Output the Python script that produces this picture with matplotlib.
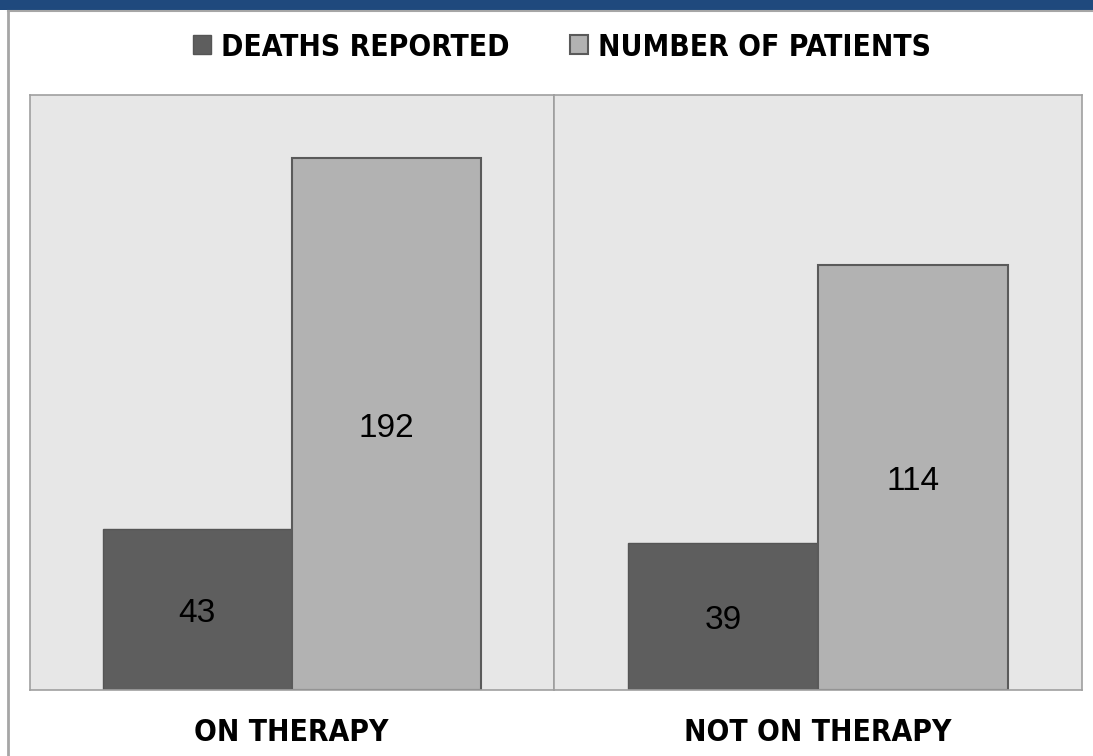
import matplotlib
matplotlib.use("Agg")
import matplotlib.pyplot as plt
from matplotlib.patches import Rectangle
from matplotlib.lines import Line2D

categories = ["ON THERAPY", "NOT ON THERAPY"]
series_names = ["DEATHS REPORTED", "NUMBER OF PATIENTS"]
deaths = [43, 39]
patients = [192, 114]

# per-panel value range (each panel drawn on its own scale)
panel_ylims = [(-21.5, 217.3), (-0.8, 159.9)]

W, H = 1093, 756
fig = plt.figure(figsize=(W / 100, H / 100), dpi=100)
fig.patch.set_facecolor("white")

cat_font = ["DejaVu Sans"]
num_font = ["Liberation Sans", "DejaVu Sans"]

# top blue strip and frame lines
fig.add_artist(Rectangle((0, 1 - 9.5 / H), 1, 9.5 / H, transform=fig.transFigure,
                         facecolor="#1f497d", edgecolor="none"))
fig.add_artist(Line2D([7.5 / W, 1], [1 - 11 / H, 1 - 11 / H], transform=fig.transFigure,
                      color="#a6a6a6", lw=1.5))
fig.add_artist(Line2D([7.5 / W, 7.5 / W], [0, 1 - 11 / H], transform=fig.transFigure,
                      color="#a6a6a6", lw=2))

dark = "#5e5e5e"
light = "#b2b2b2"
bg = "#e7e7e7"

panels_px = [(29.5, 554), (554, 1082)]
top_px, bot_px = 95, 690
bar_w = 0.36
handles = None
for i, (x0, x1) in enumerate(panels_px):
    ax = fig.add_axes([x0 / W, 1 - bot_px / H, (x1 - x0) / W, (bot_px - top_px) / H])
    ax.set_facecolor(bg)
    lo, hi = panel_ylims[i]
    ax.set_xlim(-0.5, 0.5)
    ax.set_ylim(lo, hi)
    b1 = ax.bar(-bar_w / 2, deaths[i] - lo, bottom=lo, width=bar_w, color=dark,
                edgecolor="#555555", linewidth=1, zorder=2)
    b2 = ax.bar(bar_w / 2, patients[i] - lo, bottom=lo, width=bar_w, color=light,
                edgecolor="#5a5a5a", linewidth=1.5, zorder=2)
    if handles is None:
        handles = [b1, b2]
    for xc, v in ((-bar_w / 2, deaths[i]), (bar_w / 2, patients[i])):
        ax.annotate(str(v), xy=(xc, (v + lo) / 2), xytext=(0, -3),
                    textcoords="offset points", ha="center", va="center",
                    fontsize=24, family=num_font, color="black", zorder=3)
    ax.set_xticks([0])
    ax.set_xticklabels([categories[i]], fontsize=21.5, fontweight="bold",
                       family=cat_font, fontstretch="condensed")
    ax.tick_params(axis="x", length=0, pad=20)
    ax.set_yticks([])
    for s in ax.spines.values():
        s.set_color("#a0a0a0")
        s.set_linewidth(1.2)
    if i == 0:
        ax.spines["right"].set_color("#8c8c8c")

leg = fig.legend(handles, series_names, loc="center", bbox_to_anchor=(562 / W, 1 - 47 / H),
                 ncol=2, frameon=False, handlelength=0.6, handleheight=0.6,
                 handletextpad=0.35, columnspacing=2.0,
                 prop={"family": cat_font, "weight": "bold", "size": 21.5,
                       "stretch": "condensed"})

fig.savefig("out.png", dpi=100)
